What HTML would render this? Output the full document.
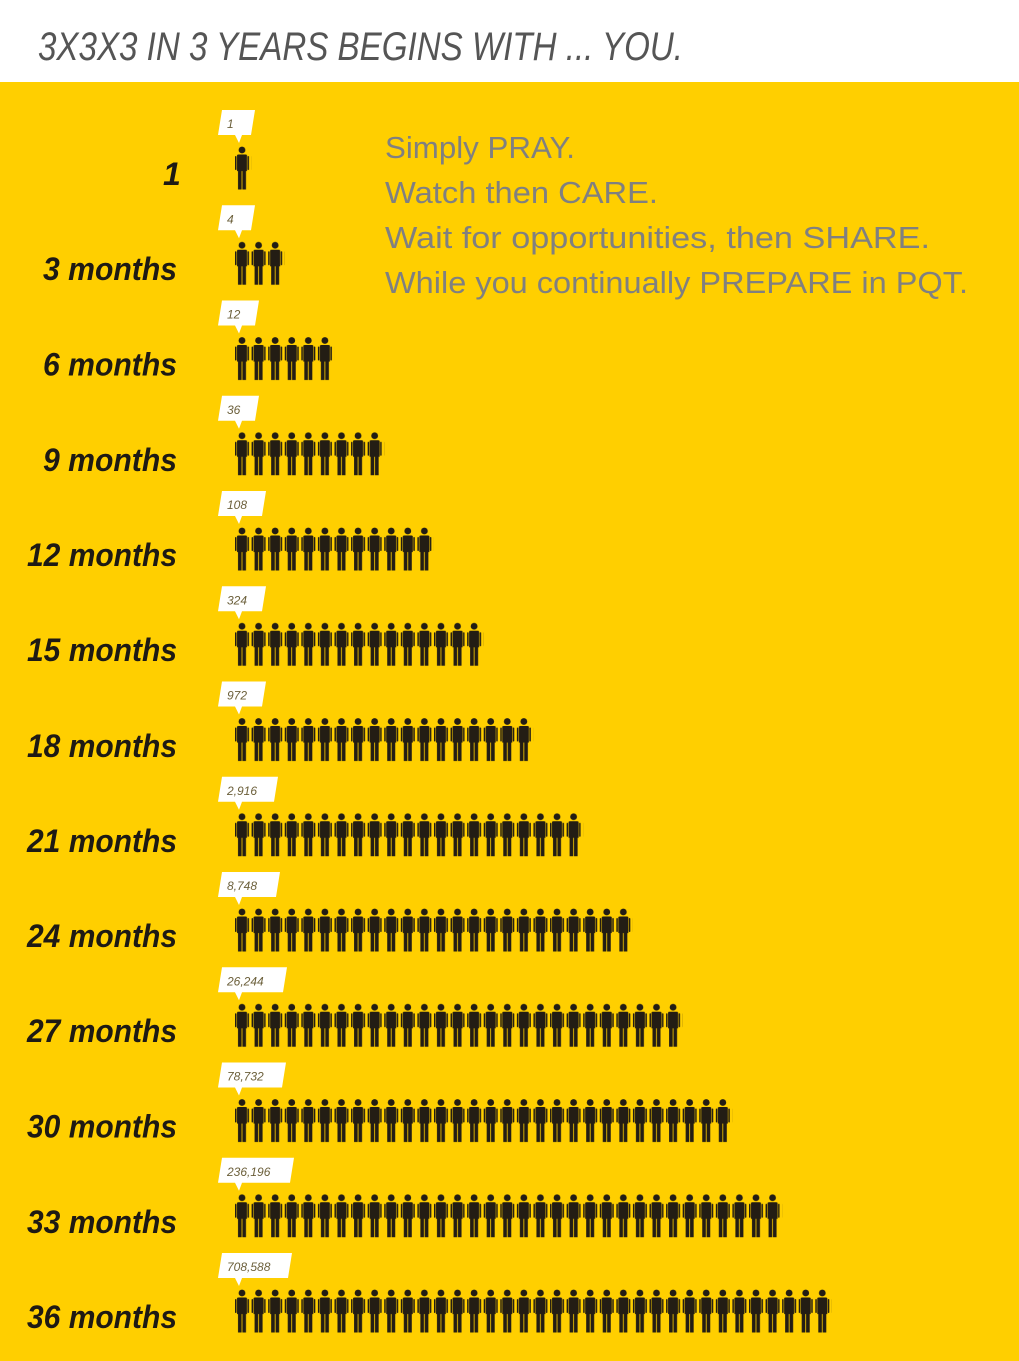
<!DOCTYPE html>
<html><head><meta charset="utf-8"><style>
html,body{margin:0;padding:0;background:#fff;}
svg{display:block;}
</style></head><body>
<svg width="1019" height="1361" xmlns="http://www.w3.org/2000/svg">
<defs>
<pattern id="p" patternUnits="userSpaceOnUse" x="235" y="146" width="16.58" height="95.25">
<g fill="#231d14">
<circle cx="7" cy="4" r="3.4"/>
<path d="M2 9.5 Q2 8.5 3.5 8.5 L10.5 8.5 Q12 8.5 12 9.5 L12 25 L2 25 Z"/>
<rect x="0" y="10" width="1.5" height="14" rx="0.75"/>
<rect x="12.5" y="10" width="1.5" height="14" rx="0.75"/>
<rect x="3" y="24" width="3.6" height="19.5"/>
<rect x="7.4" y="24" width="3.6" height="19.5"/>
</g>
</pattern>
</defs>
<rect x="0" y="0" width="1019" height="82" fill="#fff"/>
<rect x="0" y="82" width="1019" height="1279" fill="#ffcf00"/>
<text x="38" y="60" font-family="Liberation Sans, sans-serif" font-style="italic" font-size="40" fill="#555" textLength="645" lengthAdjust="spacingAndGlyphs">3X3X3 IN 3 YEARS BEGINS WITH ... YOU.</text>
<g font-family="Liberation Sans, sans-serif" font-size="31" fill="#808080">
<text x="385" y="158" textLength="190" lengthAdjust="spacingAndGlyphs">Simply PRAY.</text>
<text x="385" y="203" textLength="273" lengthAdjust="spacingAndGlyphs">Watch then CARE.</text>
<text x="385" y="248" textLength="545" lengthAdjust="spacingAndGlyphs">Wait for opportunities, then SHARE.</text>
<text x="385" y="293" textLength="583" lengthAdjust="spacingAndGlyphs">While you continually PREPARE in PQT.</text>
</g>
<g font-family="Liberation Sans, sans-serif" font-size="32" font-weight="bold" font-style="italic" fill="#1e1a14">
<text x="163" y="185">1</text>
<text x="43" y="280" textLength="134" lengthAdjust="spacingAndGlyphs">3 months</text>
<text x="43" y="375.5" textLength="134" lengthAdjust="spacingAndGlyphs">6 months</text>
<text x="43" y="471" textLength="134" lengthAdjust="spacingAndGlyphs">9 months</text>
<text x="27" y="566" textLength="150" lengthAdjust="spacingAndGlyphs">12 months</text>
<text x="27" y="661" textLength="150" lengthAdjust="spacingAndGlyphs">15 months</text>
<text x="27" y="757" textLength="150" lengthAdjust="spacingAndGlyphs">18 months</text>
<text x="27" y="852" textLength="150" lengthAdjust="spacingAndGlyphs">21 months</text>
<text x="27" y="947" textLength="150" lengthAdjust="spacingAndGlyphs">24 months</text>
<text x="27" y="1042" textLength="150" lengthAdjust="spacingAndGlyphs">27 months</text>
<text x="27" y="1137.5" textLength="150" lengthAdjust="spacingAndGlyphs">30 months</text>
<text x="27" y="1233" textLength="150" lengthAdjust="spacingAndGlyphs">33 months</text>
<text x="27" y="1328" textLength="150" lengthAdjust="spacingAndGlyphs">36 months</text>
</g>
<g fill="url(#p)">
<rect x="235" y="146" width="16.58" height="44"/>
<rect x="235" y="241.25" width="49.74" height="44"/>
<rect x="235" y="336.5" width="99.5" height="44"/>
<rect x="235" y="431.75" width="149.2" height="44"/>
<rect x="235" y="527" width="199" height="44"/>
<rect x="235" y="622.25" width="248.7" height="44"/>
<rect x="235" y="717.5" width="298.4" height="44"/>
<rect x="235" y="812.75" width="348.1" height="44"/>
<rect x="235" y="908" width="397.9" height="44"/>
<rect x="235" y="1003.25" width="447.7" height="44"/>
<rect x="235" y="1098.5" width="497.4" height="44"/>
<rect x="235" y="1193.75" width="547.1" height="44"/>
<rect x="235" y="1289" width="596.9" height="44"/>
</g>
<g fill="#fff" font-family="Liberation Sans, sans-serif" font-size="12" font-style="italic">
<g transform="translate(0,0)"><path d="M222 110 L255 110 L251 135 L242 135 L239 143 L235 135 L218 135 Z"/><text x="227" y="128" fill="#6b5f3a">1</text></g>
<g transform="translate(0,95.25)"><path d="M222 110 L255 110 L251 135 L242 135 L239 143 L235 135 L218 135 Z"/><text x="227" y="128" fill="#6b5f3a">4</text></g>
<g transform="translate(0,190.5)"><path d="M222 110 L259 110 L255 135 L242 135 L239 143 L235 135 L218 135 Z"/><text x="227" y="128" fill="#6b5f3a">12</text></g>
<g transform="translate(0,285.75)"><path d="M222 110 L259 110 L255 135 L242 135 L239 143 L235 135 L218 135 Z"/><text x="227" y="128" fill="#6b5f3a">36</text></g>
<g transform="translate(0,381)"><path d="M222 110 L266 110 L262 135 L242 135 L239 143 L235 135 L218 135 Z"/><text x="227" y="128" fill="#6b5f3a">108</text></g>
<g transform="translate(0,476.25)"><path d="M222 110 L266 110 L262 135 L242 135 L239 143 L235 135 L218 135 Z"/><text x="227" y="128" fill="#6b5f3a">324</text></g>
<g transform="translate(0,571.5)"><path d="M222 110 L266 110 L262 135 L242 135 L239 143 L235 135 L218 135 Z"/><text x="227" y="128" fill="#6b5f3a">972</text></g>
<g transform="translate(0,666.75)"><path d="M222 110 L278 110 L274 135 L242 135 L239 143 L235 135 L218 135 Z"/><text x="227" y="128" fill="#6b5f3a">2,916</text></g>
<g transform="translate(0,762)"><path d="M222 110 L280 110 L276 135 L242 135 L239 143 L235 135 L218 135 Z"/><text x="227" y="128" fill="#6b5f3a">8,748</text></g>
<g transform="translate(0,857.25)"><path d="M222 110 L287 110 L283 135 L242 135 L239 143 L235 135 L218 135 Z"/><text x="227" y="128" fill="#6b5f3a">26,244</text></g>
<g transform="translate(0,952.5)"><path d="M222 110 L286 110 L282 135 L242 135 L239 143 L235 135 L218 135 Z"/><text x="227" y="128" fill="#6b5f3a">78,732</text></g>
<g transform="translate(0,1047.75)"><path d="M222 110 L294 110 L290 135 L242 135 L239 143 L235 135 L218 135 Z"/><text x="227" y="128" fill="#6b5f3a">236,196</text></g>
<g transform="translate(0,1143)"><path d="M222 110 L292 110 L288 135 L242 135 L239 143 L235 135 L218 135 Z"/><text x="227" y="128" fill="#6b5f3a">708,588</text></g>
</g>
</svg>
</body></html>
